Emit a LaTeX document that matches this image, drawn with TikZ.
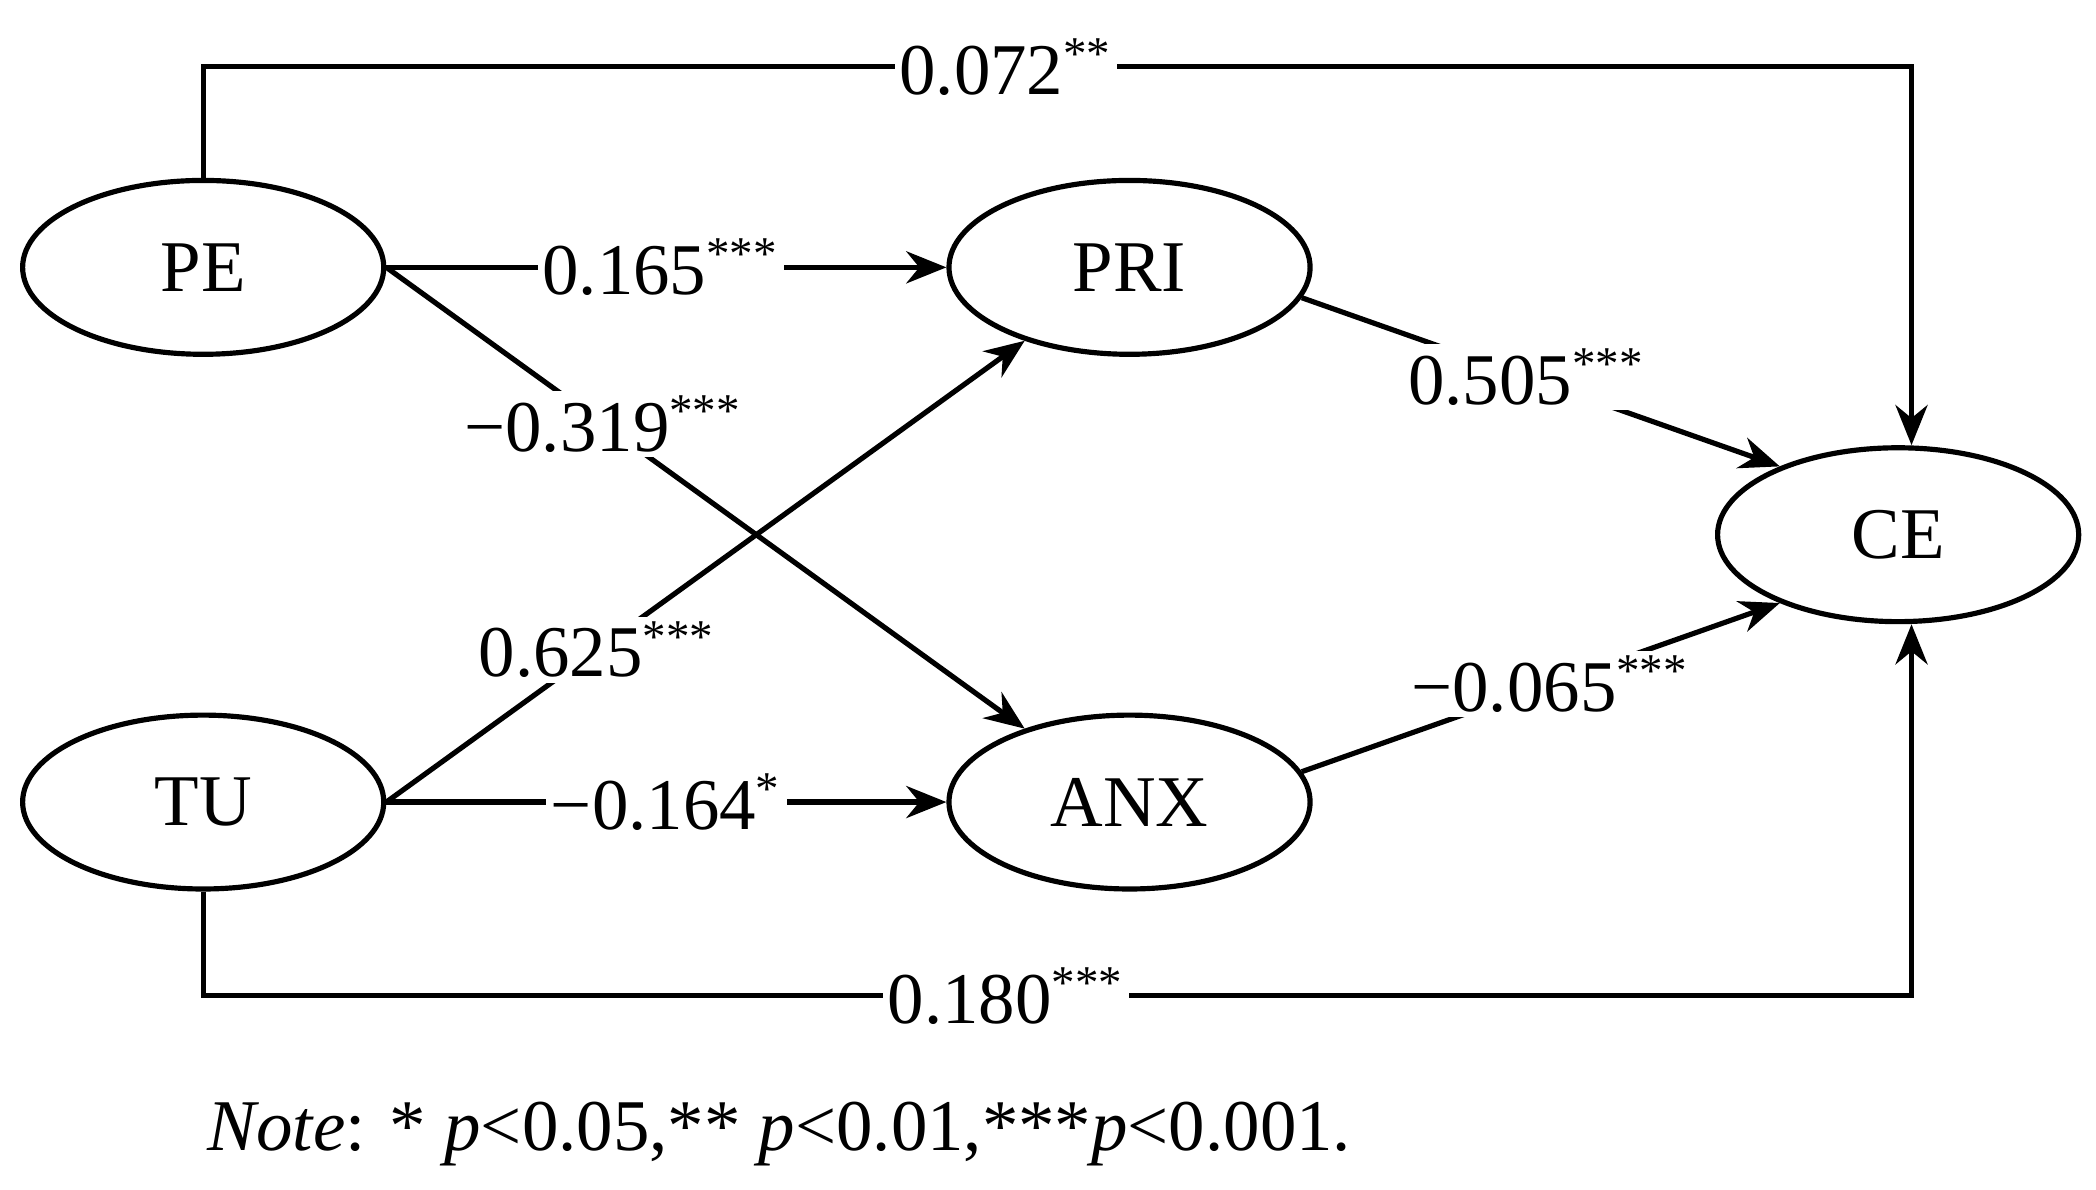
\documentclass[tikz,border=0pt]{standalone}
\usepackage{fontspec}
\setmainfont{Liberation Serif}
\usetikzlibrary{arrows.meta,shapes.geometric}
\newcommand{\sig}[1]{\textsuperscript{\fontsize{10}{10}\selectfont #1}}
\begin{document}
\begin{tikzpicture}[x=0.01cm,y=-0.01cm,
  ell/.style={draw,line width=1.1pt,shape=ellipse,minimum width=2.7cm,minimum height=1.3cm,font=\fontsize{15.5}{18}\selectfont},
  con/.style={line width=1.1pt},
  arr/.style={con,-{Stealth[length=0.3cm,width=0.24cm]}},
  lab/.style={fill=white,inner sep=1pt,font=\fontsize{15.5}{18}\selectfont}]
\useasboundingbox (0,0) rectangle (1568,890);
\node[ell] (PE) at (152,200) {PE};
\node[ell] (PRI) at (845,200) {PRI};
\node[ell] (TU) at (152,600) {TU};
\node[ell] (ANX) at (845,600) {ANX};
\node[ell] (CE) at (1420,400) {CE};
\coordinate (t1) at (152,50); \coordinate (t2) at (1430,50);
\coordinate (b1) at (152,745); \coordinate (b2) at (1430,745);
\draw[arr] (PE.north) -- (t1) -- node[lab,pos=0.47]{0.072\sig{**}} (t2) -- (CE.north -| t2);
\draw[arr] (TU.south) -- (b1) -- node[lab,pos=0.47]{0.180\sig{***}} (b2) -- (CE.south -| b2);
\draw[arr] (PE.east) -- node[lab,pos=0.49]{0.165\sig{***}} (PRI.west);
\draw[arr] (TU.east) -- node[lab,pos=0.5]{−0.164\sig{*}} (ANX.west);
\draw[arr] (PE.east) -- node[lab,pos=0.34]{−0.319\sig{***}} (ANX.145);
\draw[arr] (TU.east) -- node[lab,pos=0.33]{0.625\sig{***}} (PRI.215);
\draw[arr] (PRI.-10) -- node[lab,pos=0.47]{0.505\sig{***}} (CE.150);
\draw[arr] (ANX.10) -- node[lab,pos=0.52]{−0.065\sig{***}} (CE.210);
\node[anchor=west,font=\fontsize{15.5}{18}\selectfont] (note) at (143,848) {\textit{Note}: * \textit{p}<0.05,** \textit{p}<0.01,***\textit{p}<0.001.};
\end{tikzpicture}
\end{document}
